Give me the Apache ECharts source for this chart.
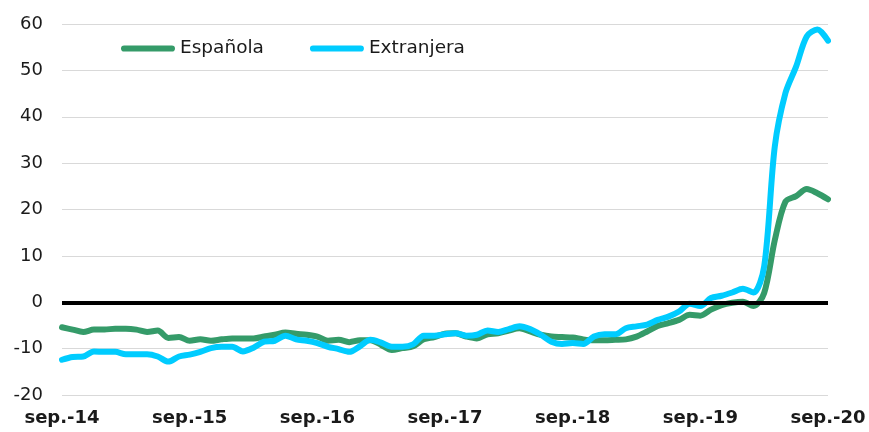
<!DOCTYPE html>
<html>
<head>
<meta charset="utf-8">
<script src="https://cdn.jsdelivr.net/npm/echarts@6/dist/echarts.min.js"></script>
<style>
html,body{margin:0;padding:0;background:#fff;}
#chart{width:869px;height:432px;}
</style>
</head>
<body>
<div id="chart"></div>
<script>
var monthNames = ['sep.','oct.','nov.','dic.','ene.','feb.','mar.','abr.','may.','jun.','jul.','ago.'];
var startYear = 14;
var nMonths = 73;

var espanola = [
 -5.4,-5.9,-6.4,-5.9,-5.9,-5.7,-5.7,-5.9,-6.4,-6.1,
 -7.7,-7.5,-8.3,-8.0,-8.3,-8.0,-7.8,-7.8,-7.8,-7.4,
 -7.0,-6.5,-6.8,-7.0,-7.4,-8.3,-8.1,-8.6,-8.2,-8.2,
 -9.2,-10.3,-9.9,-9.5,-8.0,-7.5,-6.8,-6.7,-7.4,-7.8,
 -6.9,-6.7,-6.1,-5.6,-6.3,-7.0,-7.4,-7.5,-7.6,-8.0,
 -8.2,-8.2,-8.1,-8.0,-7.4,-6.3,-5.1,-4.5,-3.8,-2.7,
 -2.9,-1.6,-0.6,-0.1,0.1,-0.8,2.0,13.4,21.7,22.9,
 24.4,23.5,22.2
];
var extranjera = [
 -12.4,-11.8,-11.7,-10.6,-10.7,-10.7,-11.2,-11.2,-11.2,-11.7,
 -12.8,-11.7,-11.3,-10.7,-9.9,-9.6,-9.6,-10.6,-9.8,-8.5,
 -8.3,-7.2,-8.0,-8.3,-8.8,-9.6,-10.1,-10.7,-9.5,-8.1,
 -8.7,-9.6,-9.6,-9.1,-7.2,-7.2,-6.9,-6.7,-7.2,-7.0,
 -6.1,-6.4,-5.8,-5.2,-5.8,-7.0,-8.5,-9.0,-8.8,-9.0,
 -7.4,-6.9,-6.9,-5.6,-5.2,-4.8,-3.8,-3.1,-2.0,-0.3,
 -0.8,0.9,1.4,2.1,2.9,2.1,7.7,33.6,45.1,50.8,
 57.3,58.8,56.4
];
var yTicks = {min: -20, max: 60, interval: 10};

var categories = [];
for (var i = 0; i < nMonths; i++) {
  var yr = startYear + Math.floor((i + 8) / 12);
  categories.push(monthNames[i % 12] + '-' + yr);
}

var chart = echarts.init(document.getElementById('chart'), null, {renderer: 'canvas'});
var capsule = 'path://M3,0 L49,0 A3,3 0 0 1 49,6 L3,6 A3,3 0 0 1 3,0 Z';
chart.setOption({
  animation: false,
  backgroundColor: '#ffffff',
  grid: {left: 62, right: 41, top: 24, bottom: 37, containLabel: false},
  legend: {
    left: 116, top: 34,
    itemWidth: 54, itemHeight: 7, itemGap: 46,
    textStyle: {fontFamily: 'DejaVu Sans', fontSize: 18.5, color: '#1a1a1a'},
    data: [
      {name: 'Española', icon: capsule},
      {name: 'Extranjera', icon: capsule}
    ]
  },
  xAxis: {
    type: 'category',
    data: categories,
    boundaryGap: false,
    axisLine: {show: false, onZero: false},
    axisTick: {show: false},
    splitLine: {show: false},
    axisLabel: {
      interval: 11,
      margin: 14,
      fontFamily: 'DejaVu Sans', fontSize: 18, fontWeight: 'bold', color: '#1a1a1a'
    }
  },
  yAxis: {
    type: 'value',
    min: yTicks.min, max: yTicks.max, interval: yTicks.interval,
    axisLine: {show: false},
    axisTick: {show: false},
    splitLine: {lineStyle: {color: '#d9d9d9', width: 1}},
    axisLabel: {margin: 19, fontFamily: 'DejaVu Sans', fontSize: 18, color: '#1a1a1a'}
  },
  series: [
    {
      type: 'line', name: 'zero', data: [], z: 1, silent: true,
      markLine: {
        silent: true, symbol: 'none', label: {show: false},
        lineStyle: {color: '#000000', width: 4, type: 'solid'},
        data: [{yAxis: 0}]
      }
    },
    {
      type: 'line', name: 'Española', data: espanola, z: 2,
      smooth: 0.3, showSymbol: false, symbol: 'none',
      color: '#359b69',
      lineStyle: {color: '#359b69', width: 6, cap: 'round', join: 'round'}
    },
    {
      type: 'line', name: 'Extranjera', data: extranjera, z: 3,
      smooth: 0.3, showSymbol: false, symbol: 'none',
      color: '#00ccff',
      lineStyle: {color: '#00ccff', width: 6, cap: 'round', join: 'round'}
    }
  ]
});
</script>
</body>
</html>
